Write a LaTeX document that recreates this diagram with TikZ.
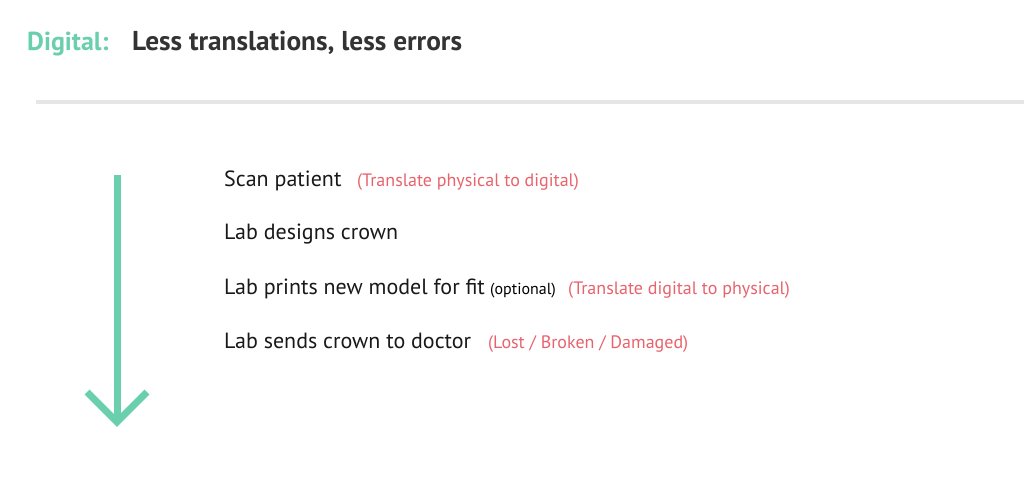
\documentclass[tikz,border=0pt]{standalone}
\usepackage{fontspec}
\setmainfont{PT Sans}
\usepackage{tikz}
\usetikzlibrary{calc}
\definecolor{teal}{HTML}{6ACFAD}
\definecolor{note}{HTML}{E8636C}
\definecolor{ink}{HTML}{333333}
\definecolor{rule}{HTML}{E6E6E6}

\begin{document}
\begin{tikzpicture}[x=1pt,y=-1pt,
	steptext/.style={anchor=base west,inner sep=0pt,text=black!90,font=\fontsize{22}{26}\selectfont},
	notetext/.style={anchor=base west,inner sep=0pt,text=note,font=\fontsize{18}{21}\selectfont}]
			%%%%% START %%%%%
			\useasboundingbox[fill=white] (0, 0) rectangle (1024, 479);
			
			\node[anchor=base west,inner sep=0pt,text=teal,font=\fontsize{26}{30}\selectfont\bfseries] (head) at (27, 50) {Digital:};
			\node[anchor=base west,inner sep=0pt,text=ink,font=\fontsize{27.3}{31}\selectfont\bfseries] (title) at (132, 50) {Less translations, less errors};
			
			\draw[rule, line width=4] (36, 102) -- (1024, 102);
			
			\coordinate (top) at (117, 175);
			\coordinate (tip) at (117, 422);
			\draw[teal, line width=7] (top) -- (tip);
			\draw[teal, line width=7, line join=miter] ($(tip)+(-30,-30)$) -- (tip) -- ($(tip)+(30,-30)$);
			
			\node[steptext] (scan) at (224, 186) {Scan patient};
			\node[notetext] (scannote) at (357, 186) {(Translate physical to digital)};
			
			\node[steptext] (design) at (224, 239) {Lab designs crown};
			
			\node[steptext] (print) at (224, 294) {Lab prints new model for fit};
			\node[anchor=base west,inner sep=0pt,font=\fontsize{16}{19}\selectfont] (opt) at (490, 294) {(optional)};
			\node[notetext] (printnote) at (568, 294) {(Translate digital to physical)};
			
			\node[steptext] (send) at (224, 348) {Lab sends crown to doctor};
			\node[notetext] (sendnote) at (488, 348) {(Lost / Broken / Damaged)};
			%%%%% END %%%%%
\end{tikzpicture}
\end{document}
